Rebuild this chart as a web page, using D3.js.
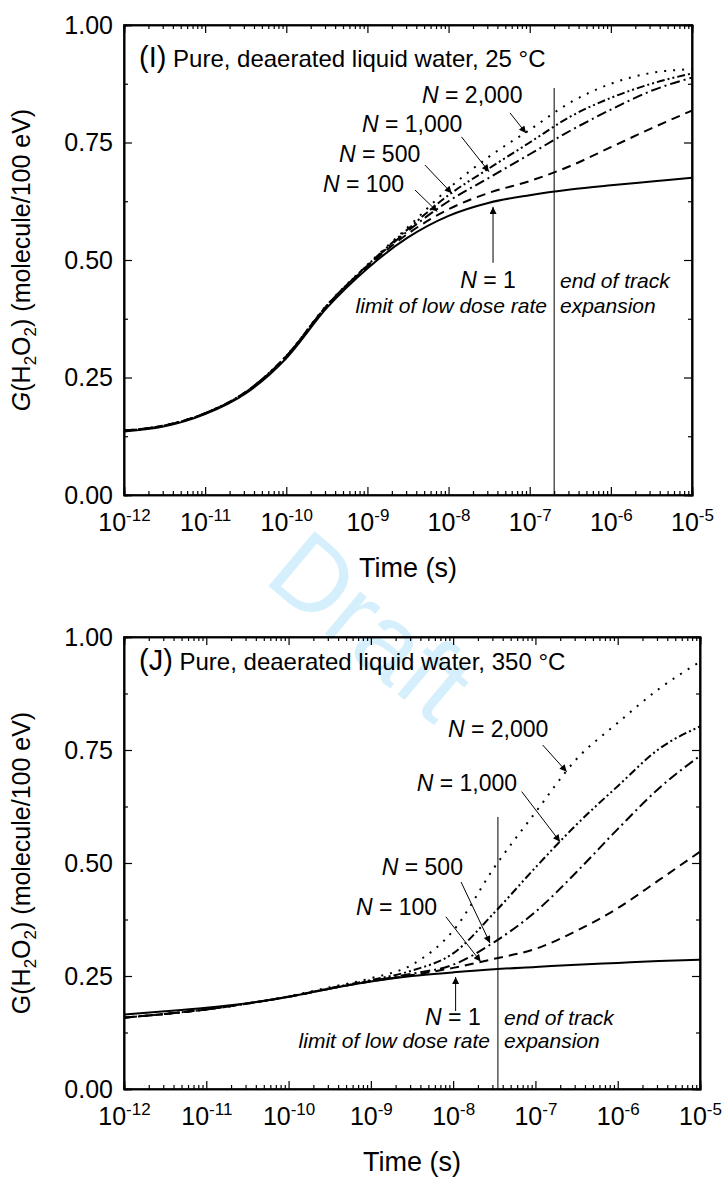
<!DOCTYPE html>
<html>
<head>
<meta charset="utf-8">
<script src="https://cdn.jsdelivr.net/npm/d3@7"></script>
<style>
  body { margin: 0; background: #fff; }
  text { font-family: "Liberation Sans", Arial, sans-serif; fill: #000; }
</style>
</head>
<body>
<svg id="chart"></svg>
<script>
// time grid (s), half-decade steps
const time = [1e-12, 3.16e-12, 1e-11, 3.16e-11, 1e-10, 3.16e-10, 1e-9, 3.16e-9,
              1e-8, 3.16e-8, 1e-7, 3.16e-7, 1e-6, 3.16e-6, 1e-5]

const seriesNames = ['N = 1', 'N = 100', 'N = 500', 'N = 1,000', 'N = 2,000']

// (I) 25 °C
const g25_n1    = [0.135, 0.146, 0.172, 0.216, 0.291, 0.398, 0.482, 0.548, 0.594, 0.622, 0.638, 0.650, 0.659, 0.667, 0.675]
const g25_n100  = [0.137, 0.148, 0.174, 0.219, 0.295, 0.402, 0.486, 0.556, 0.608, 0.643, 0.668, 0.700, 0.740, 0.780, 0.818]
const g25_n500  = [0.137, 0.148, 0.174, 0.219, 0.295, 0.403, 0.488, 0.562, 0.625, 0.675, 0.725, 0.775, 0.820, 0.860, 0.888]
const g25_n1000 = [0.137, 0.148, 0.174, 0.219, 0.296, 0.403, 0.489, 0.566, 0.638, 0.695, 0.750, 0.805, 0.845, 0.875, 0.897]
const g25_n2000 = [0.137, 0.148, 0.174, 0.219, 0.296, 0.404, 0.490, 0.570, 0.652, 0.720, 0.777, 0.835, 0.875, 0.898, 0.906]

// (J) 350 °C
const g350_n1    = [0.165, 0.172, 0.180, 0.190, 0.204, 0.222, 0.238, 0.250, 0.258, 0.265, 0.270, 0.275, 0.279, 0.283, 0.286]
const g350_n100  = [0.158, 0.166, 0.176, 0.189, 0.204, 0.222, 0.238, 0.252, 0.268, 0.288, 0.310, 0.350, 0.400, 0.462, 0.525]
const g350_n500  = [0.158, 0.166, 0.176, 0.189, 0.204, 0.222, 0.239, 0.255, 0.275, 0.325, 0.392, 0.480, 0.575, 0.665, 0.737]
const g350_n1000 = [0.158, 0.166, 0.176, 0.189, 0.204, 0.223, 0.241, 0.262, 0.300, 0.390, 0.490, 0.585, 0.670, 0.752, 0.802]
const g350_n2000 = [0.158, 0.166, 0.176, 0.189, 0.205, 0.225, 0.245, 0.275, 0.350, 0.490, 0.612, 0.730, 0.810, 0.885, 0.945]

const yTicks = [0, 0.25, 0.5, 0.75, 1]
const yMinor = [0.125, 0.375, 0.625, 0.875]
const decades = [-12, -11, -10, -9, -8, -7, -6, -5]

// end of track expansion: [time, top of the line]
const trackEnd25 = [2e-7, 0.866]
const trackEnd350 = [3.5e-8, 0.602]

const dashes = ['none', '9,6', '10,4,2,4', '8,3,2,3,2,3', '2,7']

const W = 725, H = 1177
const svg = d3.select('#chart').attr('width', W).attr('height', H)

svg.append('rect').attr('width', W).attr('height', H).attr('fill', '#fff')

const defs = svg.append('defs')
defs.append('marker')
    .attr('id', 'head')
    .attr('viewBox', '0 0 10 10')
    .attr('refX', 10).attr('refY', 5)
    .attr('markerUnits', 'userSpaceOnUse')
    .attr('markerWidth', 10).attr('markerHeight', 7)
    .attr('orient', 'auto')
    .append('path').attr('d', 'M0,0L10,5L0,10z').attr('fill', '#000')

// watermark
svg.append('text')
    .attr('transform', 'translate(366,632) rotate(40)')
    .attr('text-anchor', 'middle')
    .attr('dominant-baseline', 'middle')
    .attr('font-size', 104)
    .style('fill', '#d5f0fc')
    .text('Draft')

const minorTimes = []
decades.slice(0, -1).forEach(d => {
    for (let k = 2; k < 10; k++) minorTimes.push(k * Math.pow(10, d))
})

const drawPanel = (cfg) => {
    const x = d3.scaleLog().domain([1e-12, 1e-5]).range([cfg.left, cfg.right])
    const y = d3.scaleLinear().domain([0, 1]).range([cfg.bottom, cfg.top])
    const g = svg.append('g')

    const ex = e => x(Math.pow(10, e))

    // axes, ticks pointing inward
    const bottomAx = g.append('g').attr('transform', `translate(0,${cfg.bottom})`)
        .call(d3.axisBottom(x).tickValues(decades.map(d => Math.pow(10, d)))
            .tickSize(-8).tickPadding(10).tickFormat(''))
    g.append('g').attr('transform', `translate(0,${cfg.bottom})`)
        .call(d3.axisBottom(x).tickValues(minorTimes).tickSize(-4).tickFormat(''))
    g.append('g').attr('transform', `translate(0,${cfg.top})`)
        .call(d3.axisTop(x).tickValues(decades.map(d => Math.pow(10, d))).tickSize(-8).tickFormat(''))
    g.append('g').attr('transform', `translate(0,${cfg.top})`)
        .call(d3.axisTop(x).tickValues(minorTimes).tickSize(-4).tickFormat(''))

    g.append('g').attr('transform', `translate(${cfg.left},0)`)
        .call(d3.axisLeft(y).tickValues(yTicks).tickSize(-8).tickPadding(11).tickFormat(d3.format('.2f')))
    g.append('g').attr('transform', `translate(${cfg.left},0)`)
        .call(d3.axisLeft(y).tickValues(yMinor).tickSize(-4).tickFormat(''))
    g.append('g').attr('transform', `translate(${cfg.right},0)`)
        .call(d3.axisRight(y).tickValues(yTicks).tickSize(-8).tickFormat(''))
    g.append('g').attr('transform', `translate(${cfg.right},0)`)
        .call(d3.axisRight(y).tickValues(yMinor).tickSize(-4).tickFormat(''))

    g.selectAll('.domain').attr('stroke', '#000').attr('stroke-width', 1.6)
    g.selectAll('.tick line').attr('stroke', '#000').attr('stroke-width', 1.2)
    g.selectAll('.tick text').attr('font-size', 25).attr('font-family', null)

    // x labels 10^n
    bottomAx.selectAll('.tick').each(function (d) {
        const t = d3.select(this).append('text')
            .attr('y', 36).attr('text-anchor', 'middle').attr('font-size', 25)
        t.append('tspan').text('10')
        t.append('tspan').attr('dy', -10).attr('font-size', 17).text(Math.round(Math.log10(d)))
    })

    // frame box
    g.append('rect')
        .attr('x', cfg.left).attr('y', cfg.top)
        .attr('width', cfg.right - cfg.left).attr('height', cfg.bottom - cfg.top)
        .attr('fill', 'none').attr('stroke', '#000').attr('stroke-width', 1.6)

    // end of track expansion line
    g.append('line')
        .attr('x1', x(cfg.trackEnd[0])).attr('x2', x(cfg.trackEnd[0]))
        .attr('y1', y(cfg.trackEnd[1])).attr('y2', cfg.bottom)
        .attr('stroke', '#000').attr('stroke-width', 1)

    // curves
    const line = d3.line()
        .x((d, i) => x(time[i]))
        .y(d => y(d))
        .curve(d3.curveMonotoneX)

    cfg.series.forEach((s, i) => {
        g.append('path')
            .datum(s)
            .attr('d', line)
            .attr('fill', 'none')
            .attr('stroke', '#000')
            .attr('stroke-width', 2)
            .attr('stroke-dasharray', dashes[i])
    })

    // labels for N
    cfg.notes.forEach((n, i) => {
        const t = g.append('text')
            .attr('x', ex(n.at[0])).attr('y', y(n.at[1]))
            .attr('font-size', 23)
            .attr('text-anchor', n.anchor || 'start')
        t.append('tspan').attr('font-style', 'italic').text('N')
        t.append('tspan').text(seriesNames[n.idx].slice(1))
        g.append('line')
            .attr('x1', ex(n.from[0])).attr('y1', y(n.from[1]))
            .attr('x2', ex(n.to[0])).attr('y2', y(n.to[1]))
            .attr('stroke', '#000').attr('stroke-width', 1)
            .attr('marker-end', 'url(#head)')
    })

    g.append('text')
        .attr('x', ex(cfg.lowDose[0])).attr('y', y(cfg.lowDose[1]))
        .attr('text-anchor', 'end').attr('font-size', 21).attr('font-style', 'italic')
        .text('limit of low dose rate')
    g.append('text')
        .attr('x', ex(cfg.trackText[0])).attr('y', y(cfg.trackText[1]))
        .attr('font-size', 21).attr('font-style', 'italic')
        .text('end of track')
    g.append('text')
        .attr('x', ex(cfg.trackText[0])).attr('y', y(cfg.trackText[2]))
        .attr('font-size', 21).attr('font-style', 'italic')
        .text('expansion')

    // panel title
    const title = g.append('text')
        .attr('x', cfg.left + 15).attr('y', cfg.titleY)
        .attr('font-size', 24)
    title.append('tspan').attr('font-size', 29).text(cfg.tag)
    title.append('tspan').text(' ' + cfg.title)

    // axis titles
    const yt = g.append('text')
        .attr('transform', `translate(30,${(cfg.top + cfg.bottom) / 2}) rotate(-90)`)
        .attr('text-anchor', 'middle').attr('font-size', 25)
    yt.append('tspan').attr('font-style', cfg.italicG ? 'italic' : null).text('G')
    yt.append('tspan').text('(H')
    yt.append('tspan').attr('font-size', 17).attr('dy', 6).text('2')
    yt.append('tspan').attr('dy', -6).text('O')
    yt.append('tspan').attr('font-size', 17).attr('dy', 6).text('2')
    yt.append('tspan').attr('dy', -6).text(') (molecule/100 eV)')

    g.append('text')
        .attr('x', (cfg.left + cfg.right) / 2).attr('y', cfg.bottom + 82)
        .attr('text-anchor', 'middle').attr('font-size', 27)
        .text('Time (s)')
}

drawPanel({
    left: 124, right: 692, top: 25, bottom: 495,
    series: [g25_n1, g25_n100, g25_n500, g25_n1000, g25_n2000],
    trackEnd: trackEnd25,
    tag: '(I)', title: 'Pure, deaerated liquid water, 25 °C', titleY: 67, italicG: true,
    notes: [
        { idx: 4, at: [-8.327, 0.834], from: [-7.243, 0.813], to: [-7.046, 0.770] },
        { idx: 3, at: [-9.067, 0.772], from: [-7.841, 0.762], to: [-7.502, 0.688] },
        { idx: 2, at: [-9.350, 0.709], from: [-8.291, 0.702], to: [-7.961, 0.642] },
        { idx: 1, at: [-9.548, 0.645], from: [-8.414, 0.649], to: [-8.139, 0.603] },
        { idx: 0, at: [-7.514, 0.440], from: [-7.452, 0.494], to: [-7.452, 0.613], anchor: 'middle' }
    ],
    lowDose: [-6.787, 0.387],
    trackText: [-6.627, 0.440, 0.387]
})

drawPanel({
    left: 124, right: 700, top: 637, bottom: 1089,
    series: [g350_n1, g350_n100, g350_n500, g350_n1000, g350_n2000],
    trackEnd: trackEnd350,
    tag: '(J)', title: 'Pure, deaerated liquid water, 350 °C', titleY: 670, italicG: false,
    notes: [
        { idx: 4, at: [-8.063, 0.779], from: [-6.912, 0.761], to: [-6.620, 0.702] },
        { idx: 3, at: [-8.443, 0.660], from: [-7.167, 0.658], to: [-6.701, 0.547] },
        { idx: 2, at: [-8.868, 0.473], from: [-7.904, 0.458], to: [-7.552, 0.323] },
        { idx: 1, at: [-9.181, 0.385], from: [-8.089, 0.381], to: [-7.666, 0.282] },
        { idx: 0, at: [-7.665, 0.1416], from: [-7.970, 0.1726], to: [-7.970, 0.2478], anchor: 'end' }
    ],
    lowDose: [-7.552, 0.0907],
    trackText: [-7.382, 0.1416, 0.0907]
})
</script>
</body>
</html>
